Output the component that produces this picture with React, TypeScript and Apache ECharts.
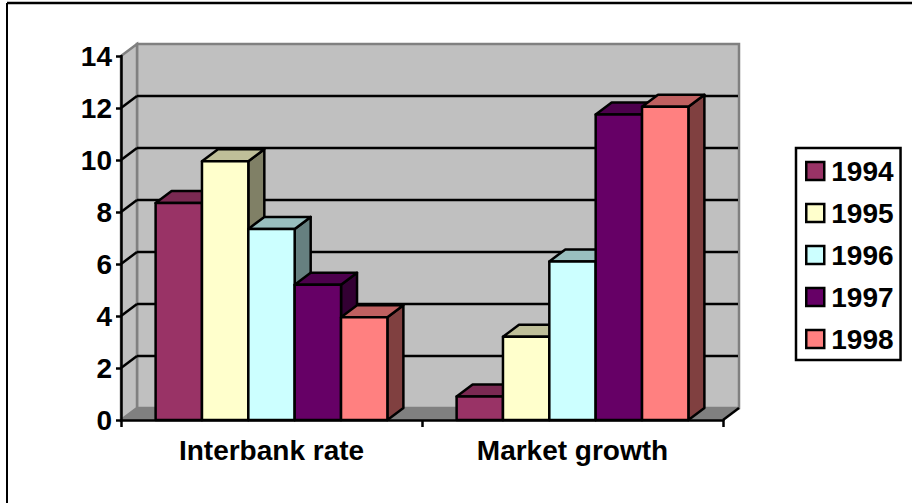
import React, { useEffect, useRef } from "react";
import * as echarts from "echarts";

const categories = ["Interbank rate", "Market growth"];
const years = ["1994", "1995", "1996", "1997", "1998"];
const values1994 = [8.35, 0.9];
const values1995 = [9.95, 3.2];
const values1996 = [7.35, 6.1];
const values1997 = [5.2, 11.75];
const values1998 = [3.95, 12.05];
const yearValues = [values1994, values1995, values1996, values1997, values1998];
const frontColors = ["#993366", "#FFFFCC", "#CCFFFF", "#660066", "#FF8080"];
const topColors = ["#7A2952", "#BFBF99", "#99BFBF", "#4D004D", "#BF6060"];
const sideColors = ["#4D1A33", "#808066", "#668080", "#330033", "#804040"];
const yTicks = [0, 2, 4, 6, 8, 10, 12, 14];

const DEPTH_X = 16;
const DEPTH_Y = -12;
const LINE = 2.5;
const FONT = '"Liberation Sans", Arial, sans-serif';

export default function App() {
  const ref = useRef<HTMLDivElement>(null);
  useEffect(() => {
    const chart = echarts.init(ref.current!, undefined, { renderer: "svg" });

    // Back wall, side wall and floor of the 3D box, with gridlines on the walls.
    const wallSeries = {
      type: "custom",
      name: "walls",
      z: 1,
      silent: true,
      coordinateSystem: "cartesian2d",
      data: yTicks.map((t) => [0, t]),
      encode: { x: 0, y: 1 },
      renderItem: (params: any, api: any) => {
        const g = params.coordSys;
        const left = g.x;
        const right = g.x + g.width;
        const y = api.coord([0, api.value(1)])[1];
        const tick = api.value(1);
        const children: any[] = [];
        if (tick === 0) {
          const top = g.y;
          const bottom = g.y + g.height;
          children.push(
            {
              type: "rect",
              shape: { x: left + DEPTH_X, y: top + DEPTH_Y, width: g.width, height: g.height },
              style: { fill: "#C0C0C0", stroke: "#808080", lineWidth: LINE },
            },
            {
              type: "polygon",
              shape: {
                points: [
                  [left, top],
                  [left + DEPTH_X, top + DEPTH_Y],
                  [left + DEPTH_X, bottom + DEPTH_Y],
                  [left, bottom],
                ],
              },
              style: { fill: "#C0C0C0", stroke: "#808080", lineWidth: LINE },
            },
            {
              type: "polygon",
              shape: {
                points: [
                  [left, bottom],
                  [left + DEPTH_X, bottom + DEPTH_Y],
                  [right + DEPTH_X, bottom + DEPTH_Y],
                  [right, bottom],
                ],
              },
              style: { fill: "#808080", stroke: "#808080", lineWidth: 1 },
            },
            {
              type: "line",
              shape: { x1: right, y1: bottom, x2: right + DEPTH_X, y2: bottom + DEPTH_Y },
              style: { stroke: "#000", lineWidth: LINE },
            }
          );
        } else if (tick < 14) {
          children.push(
            {
              type: "line",
              shape: { x1: left, y1: y, x2: left + DEPTH_X, y2: y + DEPTH_Y },
              style: { stroke: "#000", lineWidth: LINE },
            },
            {
              type: "line",
              shape: { x1: left + DEPTH_X, y1: y + DEPTH_Y, x2: right + DEPTH_X - 1, y2: y + DEPTH_Y },
              style: { stroke: "#000", lineWidth: LINE },
            }
          );
        }
        return { type: "group", children };
      },
    };

    // One custom series per year: front, top and side faces of each block.
    const barSeries = years.map((name, s) => ({
      type: "custom",
      name,
      z: 3,
      coordinateSystem: "cartesian2d",
      itemStyle: { color: frontColors[s] },
      data: yearValues[s].map((v, i) => [i, v]),
      encode: { x: 0, y: 1 },
      renderItem: (_params: any, api: any) => {
        const center = api.coord([api.value(0), 0]);
        const top = api.coord([api.value(0), api.value(1)]);
        const band = api.size([1, 0])[0];
        const w = (band * 0.77) / years.length;
        const x0 = center[0] - (w * years.length) / 2 + s * w;
        const x1 = x0 + w;
        const yb = center[1];
        const yt = top[1];
        const outline = { stroke: "#000", lineWidth: LINE, lineJoin: "round" };
        return {
          type: "group",
          children: [
            {
              type: "polygon",
              shape: {
                points: [
                  [x1, yt],
                  [x1 + DEPTH_X, yt + DEPTH_Y],
                  [x1 + DEPTH_X, yb + DEPTH_Y],
                  [x1, yb],
                ],
              },
              style: { fill: sideColors[s], ...outline },
            },
            {
              type: "polygon",
              shape: {
                points: [
                  [x0, yt],
                  [x0 + DEPTH_X, yt + DEPTH_Y],
                  [x1 + DEPTH_X, yt + DEPTH_Y],
                  [x1, yt],
                ],
              },
              style: { fill: topColors[s], ...outline },
            },
            {
              type: "rect",
              shape: { x: x0, y: yt, width: w, height: yb - yt },
              style: { fill: frontColors[s], ...outline },
            },
          ],
        };
      },
    }));

    chart.setOption({
      animation: false,
      backgroundColor: "#fff",
      textStyle: { fontFamily: FONT },
      grid: { left: 121, right: 189, top: 56, bottom: 83, containLabel: false },
      legend: {
        data: years,
        orient: "vertical",
        left: 796,
        top: 148,
        padding: [9, 7, 7, 9],
        itemGap: 14,
        itemWidth: 18,
        itemHeight: 18,
        icon: "rect",
        selectedMode: false,
        borderColor: "#000",
        borderWidth: LINE,
        backgroundColor: "#fff",
        itemStyle: { borderColor: "#000", borderWidth: LINE },
        textStyle: {
          fontFamily: FONT,
          fontWeight: "bold",
          fontSize: 28,
          color: "#000",
          padding: [0, 0, 0, 2],
        },
      },
      xAxis: {
        type: "category",
        data: categories,
        z: 2,
        axisLine: { lineStyle: { color: "#000", width: LINE } },
        axisTick: { show: true, length: 7, alignWithLabel: false, lineStyle: { color: "#000", width: LINE } },
        axisLabel: { color: "#000", fontFamily: FONT, fontWeight: "bold", fontSize: 28, margin: 16 },
        splitLine: { show: false },
      },
      yAxis: {
        type: "value",
        min: 0,
        max: 14,
        interval: 2,
        z: 2,
        axisLine: { show: true, lineStyle: { color: "#000", width: LINE } },
        axisTick: { show: true, length: 5, lineStyle: { color: "#000", width: LINE } },
        axisLabel: {
          color: "#000",
          fontFamily: FONT,
          fontWeight: "bold",
          fontSize: 28,
          margin: 9,
          padding: [4, 0, 0, 0],
        },
        splitLine: { show: false },
      },
      graphic: [
        {
          type: "line",
          shape: { x1: 7, y1: 503, x2: 7, y2: 3 },
          style: { stroke: "#000", lineWidth: 2 },
        },
        {
          type: "line",
          shape: { x1: 7, y1: 3, x2: 912, y2: 3 },
          style: { stroke: "#000", lineWidth: 2.5 },
        },
      ],
      series: [wallSeries, ...barSeries],
    });
    return () => chart.dispose();
  }, []);
  return <div ref={ref} style={{ position: "fixed", left: 0, top: 0, width: 912, height: 503 }} />;
}
